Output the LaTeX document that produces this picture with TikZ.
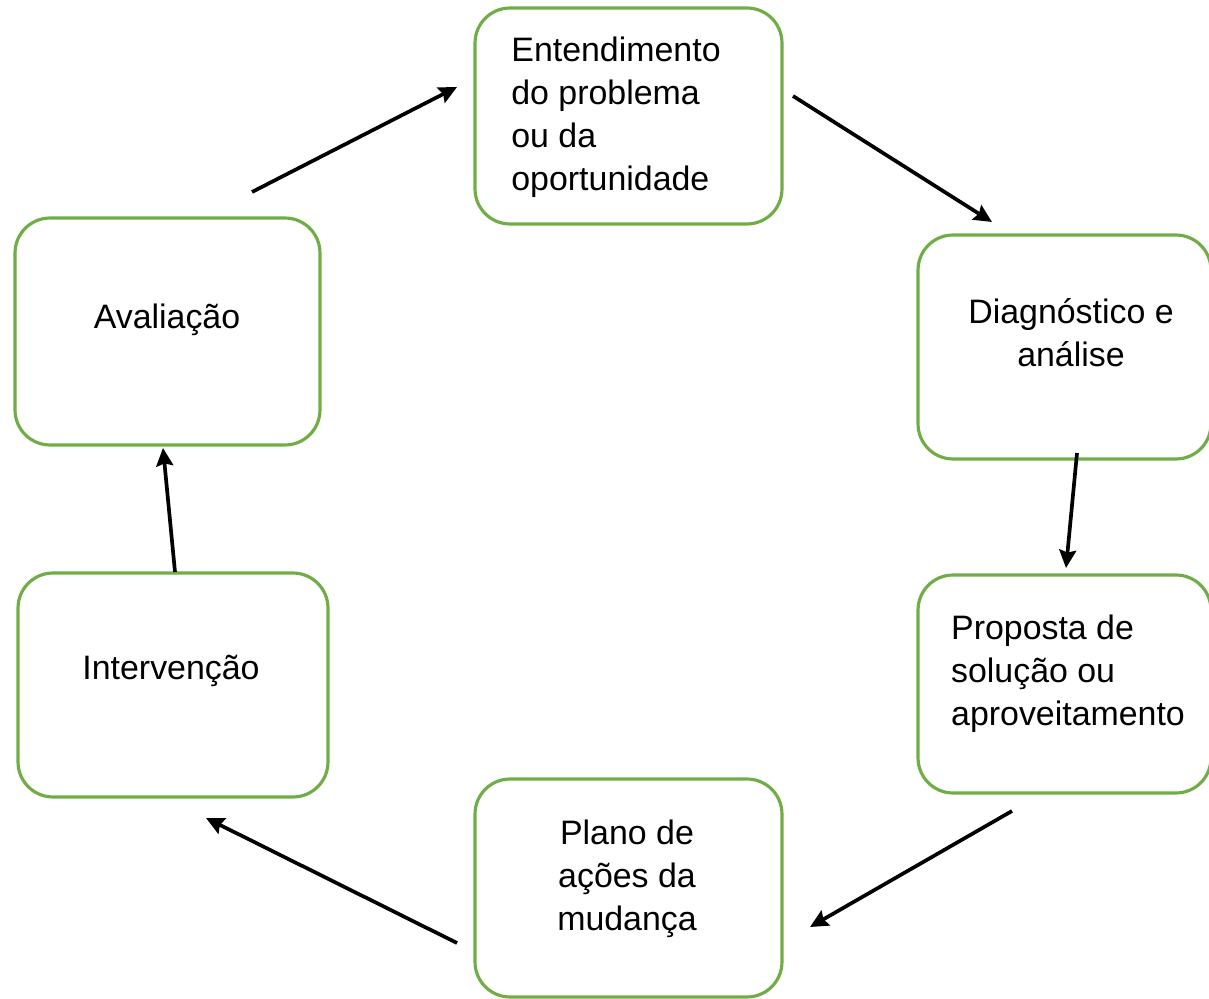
\documentclass[tikz,border=0pt]{standalone}
\usepackage{fontspec}
\setmainfont{Liberation Sans}
\usetikzlibrary{arrows.meta}
\definecolor{boxgreen}{RGB}{112,173,71}
\begin{document}
\begin{tikzpicture}[x=0.02cm,y=-0.02cm,
		box/.style={draw=boxgreen,line width=1.8pt,rounded corners=0.7cm,inner sep=0pt},
		txt/.style={font=\fontsize{19.3}{24.5}\selectfont,inner sep=0pt},
		arr/.style={-{Stealth[length=0.36cm,width=0.34cm,inset=0.05cm]},line width=2.1pt}]
		\useasboundingbox (0,0) rectangle (1209,999);
		% caixas
		\node[box,minimum width=6.14cm,minimum height=4.32cm] (ent) at (628.5,116) {};
		\node[box,minimum width=5.86cm,minimum height=4.48cm] (diag) at (1064.5,347) {};
		\node[box,minimum width=5.86cm,minimum height=4.36cm] (prop) at (1064.5,684) {};
		\node[box,minimum width=6.14cm,minimum height=4.36cm] (plano) at (628.5,888) {};
		\node[box,minimum width=6.2cm,minimum height=4.48cm] (interv) at (173,685) {};
		\node[box,minimum width=6.1cm,minimum height=4.54cm] (aval) at (167.5,331.5) {};
		% textos
		\node[txt,align=left] (enttext) at (616,117) {Entendimento\\do problema\\ou da\\oportunidade};
		\node[txt,align=center] (diagtext) at (1071,333) {Diagnóstico e\\análise};
		\node[txt,align=left] (proptext) at (1068,674) {Proposta de\\solução ou\\aproveitamento};
		\node[txt,align=center] (planotext) at (627,879) {Plano de\\ações da\\mudança};
		\node[txt] (intervtext) at (171,671) {Intervenção};
		\node[txt] (avaltext) at (167,320) {Avaliação};
		% setas
		\coordinate (a1) at (252,192); \coordinate (b1) at (457,87);
		\coordinate (a2) at (793,96);  \coordinate (b2) at (992,222);
		\coordinate (a3) at (1077,453); \coordinate (b3) at (1066,568);
		\coordinate (a4) at (1012,811); \coordinate (b4) at (810,927);
		\coordinate (a5) at (457,943); \coordinate (b5) at (206,818);
		\coordinate (a6) at (175,572); \coordinate (b6) at (163,448);
		\draw[arr] (a1)--(b1);
		\draw[arr] (a2)--(b2);
		\draw[arr] (a3)--(b3);
		\draw[arr] (a4)--(b4);
		\draw[arr] (a5)--(b5);
		\draw[arr] (a6)--(b6);
\end{tikzpicture}
\end{document}
